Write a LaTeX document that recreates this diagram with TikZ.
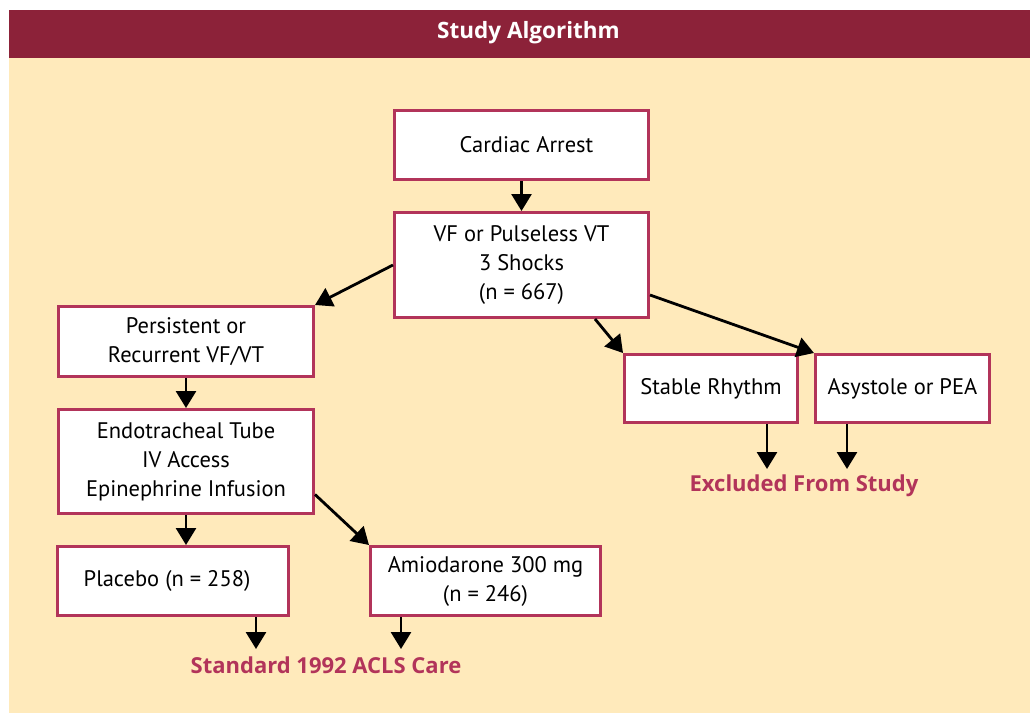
\documentclass[tikz,border=0pt]{standalone}
\usepackage{fontspec}
\setmainfont{PT Sans}
\newfontfamily\lblfont{Open Sans}
\usetikzlibrary{arrows.meta,calc}
\definecolor{hdr}{RGB}{140,34,57}
\definecolor{cream}{RGB}{255,234,187}
\definecolor{crim}{RGB}{178,52,90}
\tikzset{
  box/.style={draw=crim,line width=3pt,fill=white,align=center,inner sep=0pt,font=\fontsize{22.5}{29}\selectfont},
  conn/.style={line width=2.8pt,-{Triangle[width=20pt,length=17pt]}},
  lbl/.style={text=crim,font=\lblfont\bfseries\fontsize{22}{26}\selectfont}
}
\begin{document}
\begin{tikzpicture}[x=1pt,y=-1pt]
\useasboundingbox (0,0) rectangle (1032,715);
\fill[white] (0,0) rectangle (1032,715);
\fill[cream] (9,58) rectangle (1030,713);
\fill[hdr] (9,10) rectangle (1030,58);
\node[text=white,font=\lblfont\bfseries\fontsize{22.5}{26}\selectfont] (title) at (528.5,33) {Study Algorithm};

\node[box,minimum width=254pt,minimum height=69pt] (ca) at (521.5,145) {\hspace*{10pt}Cardiac Arrest};
\node[box,minimum width=254pt,minimum height=105pt] (vf) at (521.5,265) {VF or Pulseless VT\\3 Shocks\\(n = 667)};
\node[box,minimum width=255pt,minimum height=70pt] (pers) at (186,341.5) {Persistent or\\Recurrent VF/VT};
\node[box,minimum width=255pt,minimum height=104pt] (endo) at (186,461.5) {Endotracheal Tube\\IV Access\\Epinephrine Infusion};
\node[box,minimum width=173pt,minimum height=68pt] (stab) at (711,388.5) {Stable Rhythm};
\node[box,minimum width=174pt,minimum height=68pt] (asys) at (902.5,388.5) {Asystole or PEA};
\node[box,minimum width=231pt,minimum height=69pt] (plac) at (173,581) {Placebo (n = 258)\hspace*{12pt}};
\node[box,minimum width=230pt,minimum height=69pt] (amio) at (485.5,581) {Amiodarone 300 mg\\(n = 246)};

\node[lbl] (excl) at (804,486) {Excluded From Study};
\node[lbl] (std) at (326,665) {Standard 1992 ACLS Care};

\coordinate (e1) at (767,469);
\coordinate (e2) at (847,469);
\coordinate (s1) at (256,649);
\coordinate (s2) at (401,649);

\draw[conn] (ca.south) -- (vf.north);
\draw[conn] (vf.west) -- (pers.north east);
\draw[conn] ($(vf.south west)!0.786!(vf.south east)$) -- (stab.north west);
\draw[conn] ($(vf.east)+(0,30)$) -- (asys.north west);
\draw[conn] (pers.south) -- (endo.north);
\draw[conn] (endo.south) -- (endo.south |- plac.north);
\draw[conn] ($(endo.east)+(0,33)$) -- (amio.north west);
\draw[conn] (e1 |- stab.south) -- (e1);
\draw[conn] (e2 |- asys.south) -- (e2);
\draw[conn] (s1 |- plac.south) -- (s1);
\draw[conn] (s2 |- amio.south) -- (s2);
\end{tikzpicture}
\end{document}
